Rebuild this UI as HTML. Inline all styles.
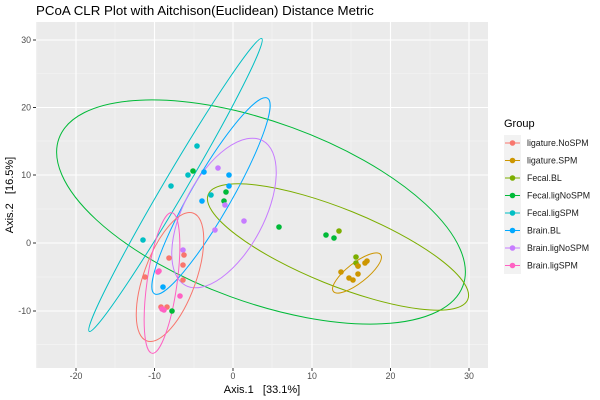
<!DOCTYPE html>
<html><head><meta charset="utf-8"><style>body{margin:0;background:#fff}svg{display:block;font-family:"Liberation Sans",sans-serif}</style></head><body>
<svg width="600" height="400" viewBox="0 0 600 400">
<rect width="600" height="400" fill="#fff"/>
<text x="36" y="15" font-size="13.3" fill="#000">PCoA CLR Plot with Aitchison(Euclidean) Distance Metric</text>
<rect x="36" y="22" width="452" height="346" fill="#ebebeb"/>
<g stroke="#f5f5f5" stroke-width="0.6">
<line x1="36.8" x2="36.8" y1="22" y2="368"/><line x1="115" x2="115" y1="22" y2="368"/><line x1="194" x2="194" y1="22" y2="368"/><line x1="272" x2="272" y1="22" y2="368"/><line x1="351" x2="351" y1="22" y2="368"/><line x1="430" x2="430" y1="22" y2="368"/>
<line x1="36" x2="488" y1="344.7" y2="344.7"/><line x1="36" x2="488" y1="277" y2="277"/><line x1="36" x2="488" y1="209" y2="209"/><line x1="36" x2="488" y1="141" y2="141"/><line x1="36" x2="488" y1="73.5" y2="73.5"/>
</g>
<g stroke="#fff" stroke-width="1.1">
<line x1="76" x2="76" y1="22" y2="368"/><line x1="154.5" x2="154.5" y1="22" y2="368"/><line x1="233" x2="233" y1="22" y2="368"/><line x1="312" x2="312" y1="22" y2="368"/><line x1="390.5" x2="390.5" y1="22" y2="368"/><line x1="469" x2="469" y1="22" y2="368"/>
<line x1="36" x2="488" y1="311" y2="311"/><line x1="36" x2="488" y1="243" y2="243"/><line x1="36" x2="488" y1="175" y2="175"/><line x1="36" x2="488" y1="107.5" y2="107.5"/><line x1="36" x2="488" y1="40" y2="40"/>
</g>
<g font-size="8.8" fill="#4d4d4d" text-anchor="middle">
<text x="76" y="379">-20</text><text x="154.5" y="379">-10</text><text x="233" y="379">0</text><text x="312" y="379">10</text><text x="390.5" y="379">20</text><text x="469" y="379">30</text>
</g>
<g font-size="8.8" fill="#4d4d4d" text-anchor="end">
<text x="31" y="314">-10</text><text x="31" y="246">0</text><text x="31" y="178">10</text><text x="31" y="110.5">20</text><text x="31" y="43">30</text>
</g>
<g stroke="#333" stroke-width="1"><line x1="76" x2="76" y1="368" y2="371"/><line x1="154.5" x2="154.5" y1="368" y2="371"/><line x1="233" x2="233" y1="368" y2="371"/><line x1="312" x2="312" y1="368" y2="371"/><line x1="390.5" x2="390.5" y1="368" y2="371"/><line x1="469" x2="469" y1="368" y2="371"/>
<line x1="33" x2="36" y1="311" y2="311"/><line x1="33" x2="36" y1="243" y2="243"/><line x1="33" x2="36" y1="175" y2="175"/><line x1="33" x2="36" y1="107.5" y2="107.5"/><line x1="33" x2="36" y1="40" y2="40"/></g>
<text x="262" y="393" font-size="11" text-anchor="middle">Axis.1&#160;&#160;&#160;[33.1%]</text>
<text transform="translate(13,195) rotate(-90)" font-size="11" text-anchor="middle">Axis.2&#160;&#160;&#160;[16.5%]</text>
<g fill="none" stroke-width="1">
<ellipse cx="261" cy="212" rx="215" ry="90" transform="rotate(20 261 212)" stroke="#00BA38"/>
<ellipse cx="338" cy="247" rx="140" ry="38" transform="rotate(22 338 247)" stroke="#7CAE00"/>
<ellipse cx="357" cy="273" rx="30" ry="10" transform="rotate(-38 357 273)" stroke="#CD9600"/>
<ellipse cx="175.5" cy="185" rx="170" ry="11" transform="rotate(-59.5 175.5 185)" stroke="#00BFC4"/>
<ellipse cx="211" cy="196" rx="113" ry="20" transform="rotate(-60 211 196)" stroke="#00A9FF"/>
<ellipse cx="224" cy="213" rx="82" ry="40" transform="rotate(-62 224 213)" stroke="#C77CFF"/>
<ellipse cx="170" cy="277" rx="68" ry="26" transform="rotate(-70 170 277)" stroke="#F8766D"/>
<ellipse cx="162" cy="283" rx="71" ry="15" transform="rotate(-82 162 283)" stroke="#FF61C3"/>
</g>
<g fill="#00BA38"><circle cx="193" cy="171" r="2.8"/><circle cx="226" cy="192" r="2.8"/><circle cx="224" cy="201" r="2.8"/><circle cx="279" cy="227" r="2.8"/><circle cx="326" cy="235" r="2.8"/><circle cx="334" cy="238" r="2.8"/><circle cx="172" cy="311" r="2.8"/></g>
<g fill="#7CAE00"><circle cx="339" cy="231" r="2.8"/><circle cx="356" cy="257" r="2.8"/><circle cx="356" cy="263" r="2.8"/><circle cx="358" cy="266" r="2.8"/></g>
<g fill="#CD9600"><circle cx="341" cy="272" r="2.8"/><circle cx="349" cy="278" r="2.8"/><circle cx="353" cy="280" r="2.8"/><circle cx="358" cy="274" r="2.8"/><circle cx="365" cy="263" r="2.8"/><circle cx="367" cy="261" r="2.8"/><circle cx="358" cy="266" r="2.8"/></g>
<g fill="#00BFC4"><circle cx="197" cy="146" r="2.8"/><circle cx="188" cy="175" r="2.8"/><circle cx="171" cy="186" r="2.8"/><circle cx="143" cy="240" r="2.8"/><circle cx="211" cy="195" r="2.8"/></g>
<g fill="#00A9FF"><circle cx="204" cy="172" r="2.8"/><circle cx="229" cy="175" r="2.8"/><circle cx="229" cy="186" r="2.8"/><circle cx="202" cy="201" r="2.8"/><circle cx="163" cy="287" r="2.8"/></g>
<g fill="#C77CFF"><circle cx="218" cy="168" r="2.8"/><circle cx="225" cy="205" r="2.8"/><circle cx="244" cy="221" r="2.8"/><circle cx="215" cy="230" r="2.8"/><circle cx="183" cy="250" r="2.8"/></g>
<g fill="#F8766D"><circle cx="184" cy="255" r="2.8"/><circle cx="169" cy="258" r="2.8"/><circle cx="183" cy="265" r="2.8"/><circle cx="145" cy="277" r="2.8"/><circle cx="183" cy="280" r="2.8"/><circle cx="161" cy="307" r="2.8"/><circle cx="167" cy="307" r="2.8"/></g>
<g fill="#FF61C3"><circle cx="158" cy="272" r="2.8"/><circle cx="159" cy="271" r="2.8"/><circle cx="180" cy="296" r="2.8"/><circle cx="162" cy="309" r="2.8"/><circle cx="164" cy="310" r="2.8"/></g>
<text x="504" y="127" font-size="11">Group</text>
<rect x="504" y="135" width="17" height="139" fill="#f2f2f2"/>
<g font-size="8.8" fill="#1a1a1a">
<g transform="translate(0,143)"><line x1="505" x2="520" stroke="#F8766D"/><circle cx="512.5" r="2.8" fill="#F8766D"/><text x="527" y="3">ligature.NoSPM</text></g>
<g transform="translate(0,160.5)"><line x1="505" x2="520" stroke="#CD9600"/><circle cx="512.5" r="2.8" fill="#CD9600"/><text x="527" y="3">ligature.SPM</text></g>
<g transform="translate(0,178)"><line x1="505" x2="520" stroke="#7CAE00"/><circle cx="512.5" r="2.8" fill="#7CAE00"/><text x="527" y="3">Fecal.BL</text></g>
<g transform="translate(0,195.5)"><line x1="505" x2="520" stroke="#00BA38"/><circle cx="512.5" r="2.8" fill="#00BA38"/><text x="527" y="3">Fecal.ligNoSPM</text></g>
<g transform="translate(0,213)"><line x1="505" x2="520" stroke="#00BFC4"/><circle cx="512.5" r="2.8" fill="#00BFC4"/><text x="527" y="3">Fecal.ligSPM</text></g>
<g transform="translate(0,230.5)"><line x1="505" x2="520" stroke="#00A9FF"/><circle cx="512.5" r="2.8" fill="#00A9FF"/><text x="527" y="3">Brain.BL</text></g>
<g transform="translate(0,248)"><line x1="505" x2="520" stroke="#C77CFF"/><circle cx="512.5" r="2.8" fill="#C77CFF"/><text x="527" y="3">Brain.ligNoSPM</text></g>
<g transform="translate(0,265.5)"><line x1="505" x2="520" stroke="#FF61C3"/><circle cx="512.5" r="2.8" fill="#FF61C3"/><text x="527" y="3">Brain.ligSPM</text></g>
</g>
</svg>
</body></html>
